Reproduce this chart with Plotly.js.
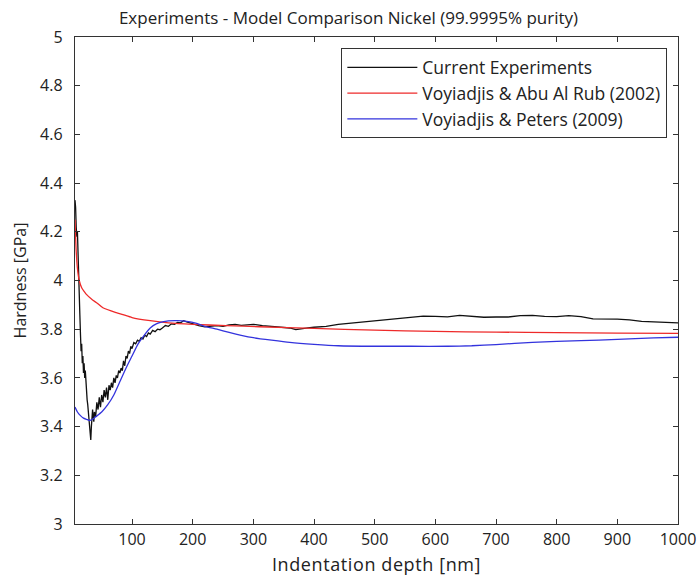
<!DOCTYPE html>
<html>
<head>
<meta charset="utf-8">
<script src="https://cdn.plot.ly/plotly-3.0.1.min.js"></script>
<style>
html,body{margin:0;padding:0;background:#fff;}
#chart{width:697px;height:582px;}
#chart .xtitle{letter-spacing:0.6px;}
</style>
</head>
<body>
<div id="chart"></div>
<script>
// Current Experiments (black)
const expX = [6,7,8,9,10,11,12,13,14,15,16,17,18,19,20,21,22,23,24,25,26,27,28,29,30,31,32,33,34,35,36,37,38,40,42,44,46,48,50,52,54,56,58,60,62,64,66,68,70,72,74,76,78,80,82,84,86,88,90,92,94,96,98,100,103,106,109,112,115,118,121,124,127,130,134,138,142,146,150,155,160,165,170,175,180,185,190,195,200,210,220,230,240,250,260,270,280,290,300,315,330,345,360,370,380,390,400,420,440,460,480,500,520,540,560,580,600,620,640,660,680,700,720,740,760,780,800,820,840,860,880,900,920,940,960,980,1000];
const expY = [4.33,4.30,4.22,4.18,4.20,4.08,4.03,3.94,3.86,3.78,3.71,3.74,3.66,3.69,3.62,3.66,3.60,3.63,3.57,3.54,3.51,3.49,3.46,3.44,3.41,3.37,3.345,3.40,3.44,3.47,3.44,3.42,3.46,3.44,3.50,3.47,3.52,3.48,3.53,3.50,3.55,3.52,3.56,3.51,3.57,3.55,3.58,3.56,3.60,3.58,3.61,3.60,3.63,3.62,3.64,3.63,3.67,3.65,3.69,3.68,3.71,3.70,3.73,3.72,3.745,3.74,3.755,3.75,3.765,3.76,3.775,3.77,3.785,3.78,3.795,3.79,3.80,3.798,3.805,3.815,3.812,3.822,3.82,3.828,3.826,3.835,3.83,3.826,3.82,3.815,3.81,3.812,3.815,3.812,3.818,3.82,3.816,3.818,3.82,3.815,3.812,3.81,3.805,3.798,3.80,3.805,3.808,3.812,3.82,3.825,3.83,3.837,3.842,3.847,3.852,3.854,3.853,3.851,3.857,3.852,3.849,3.85,3.85,3.856,3.857,3.853,3.852,3.856,3.852,3.842,3.842,3.841,3.838,3.832,3.83,3.828,3.826];

// Voyiadjis & Abu Al Rub (2002) (red)
const rubX = [6,8,10,13,17,21,24,35,41,52,74,85,100,130,160,200,255,310,400,500,600,700,800,900,1000];
const rubY = [4.25,4.12,4.05,4.0,3.97,3.955,3.945,3.92,3.91,3.888,3.868,3.86,3.848,3.835,3.826,3.82,3.815,3.81,3.803,3.796,3.791,3.788,3.786,3.784,3.783];

// Voyiadjis & Peters (2009) (blue)
const petX = [6,10,15,20,25,30,35,40,50,60,70,80,90,100,110,120,130,140,150,160,175,190,205,220,240,260,280,300,330,360,400,440,500,560,620,660,700,760,840,900,960,1000];
const petY = [3.48,3.46,3.445,3.435,3.43,3.425,3.43,3.44,3.46,3.49,3.53,3.585,3.64,3.69,3.74,3.775,3.805,3.822,3.83,3.834,3.835,3.832,3.825,3.812,3.80,3.787,3.775,3.765,3.755,3.746,3.738,3.732,3.73,3.73,3.73,3.732,3.737,3.746,3.753,3.758,3.764,3.767];

const seriesNames = ["Current Experiments","Voyiadjis & Abu Al Rub (2002)","Voyiadjis & Peters (2009)"];
const xTicks = [100,200,300,400,500,600,700,800,900,1000];
const yTicks = [3,3.2,3.4,3.6,3.8,4,4.2,4.4,4.6,4.8,5];

const FONT = "Open Sans, DejaVu Sans, sans-serif";

const traces = [
  {x: expX, y: expY, name: seriesNames[0], mode: "lines", line: {color: "#111111", width: 1.3}},
  {x: rubX, y: rubY, name: seriesNames[1], mode: "lines", line: {color: "#ee2a2a", width: 1.3, shape: "spline", smoothing: 0.6}},
  {x: petX, y: petY, name: seriesNames[2], mode: "lines", line: {color: "#3333dd", width: 1.3, shape: "spline", smoothing: 0.6}}
];

const axisCommon = {
  showline: true, linecolor: "#333", linewidth: 1.2, mirror: "ticks",
  ticks: "inside", ticklen: 5, tickcolor: "#333", tickwidth: 1,
  showgrid: false, zeroline: false,
  tickfont: {family: FONT, size: 16, color: "#222"}
};

const layout = {
  width: 697, height: 582,
  margin: {l: 75, r: 19, t: 37, b: 58},
  paper_bgcolor: "#fff", plot_bgcolor: "#fff",
  font: {family: FONT, color: "#222"},
  title: {text: "Experiments - Model Comparison Nickel (99.9995% purity)", x: 0.5, xref: "container", y: 0.969, yref: "container", xanchor: "center", yanchor: "middle",
          font: {family: FONT, size: 17, color: "#222"}},
  xaxis: Object.assign({}, axisCommon, {
    range: [6, 1000], tickvals: xTicks, ticktext: xTicks.map(String), ticklabelstandoff: 1,
    title: {text: "Indentation depth [nm]", font: {family: FONT, size: 18, color: "#222"}, standoff: 9}
  }),
  yaxis: Object.assign({}, axisCommon, {
    range: [3, 5], tickvals: yTicks, ticktext: yTicks.map(String), ticklabelstandoff: 8,
    title: {text: "Hardness [GPa]", font: {family: FONT, size: 16, color: "#222"}, standoff: 9}
  }),
  legend: {
    x: 0.982, y: 0.977, xanchor: "right", yanchor: "top",
    bgcolor: "#fff", bordercolor: "#333", borderwidth: 1.2,
    font: {family: FONT, size: 17.5, color: "#222"},
    itemwidth: 70
  },
  showlegend: true
};

Plotly.newPlot("chart", traces, layout, {displayModeBar: false, staticPlot: true});
</script>
</body>
</html>
